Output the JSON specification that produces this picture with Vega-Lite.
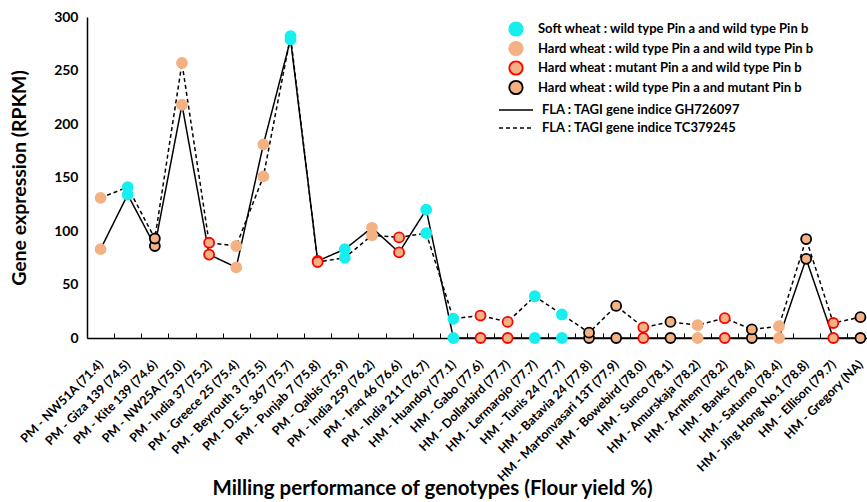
{
  "$schema": "https://vega.github.io/schema/vega-lite/v6.json",
  "width": 780,
  "height": 321,
  "autosize": {"type": "none"},
  "padding": {"left": 87, "top": 17, "right": 0, "bottom": 164},
  "background": "white",
  "config": {
    "font": "Lato",
    "view": {"stroke": null},
    "axis": {"labelFont": "Lato", "titleFont": "Lato", "labelFontWeight": "bold", "titleFontWeight": "bold", "labelColor": "black", "titleColor": "black", "domainColor": "black", "tickColor": "black", "grid": false},
    "legend": {"labelFont": "Lato", "labelFontWeight": "bold", "labelFontSize": 13, "labelColor": "black", "labelLimit": 400}
  },
  "data": {"values": [
    {"genotype": "PM - NW51A (71.4)", "class": "Hard wheat : wild type Pin a and wild type Pin b", "probe": "FLA : TAGI gene indice GH726097", "rpkm": 83},
    {"genotype": "PM - NW51A (71.4)", "class": "Hard wheat : wild type Pin a and wild type Pin b", "probe": "FLA : TAGI gene indice TC379245", "rpkm": 131},
    {"genotype": "PM - Giza 139 (74.5)", "class": "Soft wheat : wild type Pin a and wild type Pin b", "probe": "FLA : TAGI gene indice GH726097", "rpkm": 134},
    {"genotype": "PM - Giza 139 (74.5)", "class": "Soft wheat : wild type Pin a and wild type Pin b", "probe": "FLA : TAGI gene indice TC379245", "rpkm": 141},
    {"genotype": "PM - Kite 139 (74.6)", "class": "Hard wheat : wild type Pin a and mutant Pin b", "probe": "FLA : TAGI gene indice GH726097", "rpkm": 86},
    {"genotype": "PM - Kite 139 (74.6)", "class": "Hard wheat : wild type Pin a and mutant Pin b", "probe": "FLA : TAGI gene indice TC379245", "rpkm": 93},
    {"genotype": "PM - NW25A  (75.0)", "class": "Hard wheat : wild type Pin a and wild type Pin b", "probe": "FLA : TAGI gene indice GH726097", "rpkm": 218},
    {"genotype": "PM - NW25A  (75.0)", "class": "Hard wheat : wild type Pin a and wild type Pin b", "probe": "FLA : TAGI gene indice TC379245", "rpkm": 257},
    {"genotype": "PM - India 37  (75.2)", "class": "Hard wheat : mutant Pin a and wild type Pin b", "probe": "FLA : TAGI gene indice GH726097", "rpkm": 78},
    {"genotype": "PM - India 37  (75.2)", "class": "Hard wheat : mutant Pin a and wild type Pin b", "probe": "FLA : TAGI gene indice TC379245", "rpkm": 89},
    {"genotype": "PM - Greece 25 (75.4)", "class": "Hard wheat : wild type Pin a and wild type Pin b", "probe": "FLA : TAGI gene indice GH726097", "rpkm": 66},
    {"genotype": "PM - Greece 25 (75.4)", "class": "Hard wheat : wild type Pin a and wild type Pin b", "probe": "FLA : TAGI gene indice TC379245", "rpkm": 86},
    {"genotype": "PM - Beyrouth 3 (75.5)", "class": "Hard wheat : wild type Pin a and wild type Pin b", "probe": "FLA : TAGI gene indice GH726097", "rpkm": 181},
    {"genotype": "PM - Beyrouth 3 (75.5)", "class": "Hard wheat : wild type Pin a and wild type Pin b", "probe": "FLA : TAGI gene indice TC379245", "rpkm": 151},
    {"genotype": "PM - D.E.S. 367 (75.7)", "class": "Soft wheat : wild type Pin a and wild type Pin b", "probe": "FLA : TAGI gene indice GH726097", "rpkm": 279},
    {"genotype": "PM - D.E.S. 367 (75.7)", "class": "Soft wheat : wild type Pin a and wild type Pin b", "probe": "FLA : TAGI gene indice TC379245", "rpkm": 282},
    {"genotype": "PM - Punjab 7 (75.8)", "class": "Hard wheat : mutant Pin a and wild type Pin b", "probe": "FLA : TAGI gene indice GH726097", "rpkm": 72},
    {"genotype": "PM - Punjab 7 (75.8)", "class": "Hard wheat : mutant Pin a and wild type Pin b", "probe": "FLA : TAGI gene indice TC379245", "rpkm": 71},
    {"genotype": "PM - Qalbis (75.9)", "class": "Soft wheat : wild type Pin a and wild type Pin b", "probe": "FLA : TAGI gene indice GH726097", "rpkm": 83},
    {"genotype": "PM - Qalbis (75.9)", "class": "Soft wheat : wild type Pin a and wild type Pin b", "probe": "FLA : TAGI gene indice TC379245", "rpkm": 75},
    {"genotype": "PM - India 259 (76.2)", "class": "Hard wheat : wild type Pin a and wild type Pin b", "probe": "FLA : TAGI gene indice GH726097", "rpkm": 103},
    {"genotype": "PM - India 259 (76.2)", "class": "Hard wheat : wild type Pin a and wild type Pin b", "probe": "FLA : TAGI gene indice TC379245", "rpkm": 96},
    {"genotype": "PM - Iraq 46 (76.6)", "class": "Hard wheat : mutant Pin a and wild type Pin b", "probe": "FLA : TAGI gene indice GH726097", "rpkm": 80},
    {"genotype": "PM - Iraq 46 (76.6)", "class": "Hard wheat : mutant Pin a and wild type Pin b", "probe": "FLA : TAGI gene indice TC379245", "rpkm": 94},
    {"genotype": "PM - India 211 (76.7)", "class": "Soft wheat : wild type Pin a and wild type Pin b", "probe": "FLA : TAGI gene indice GH726097", "rpkm": 120},
    {"genotype": "PM - India 211 (76.7)", "class": "Soft wheat : wild type Pin a and wild type Pin b", "probe": "FLA : TAGI gene indice TC379245", "rpkm": 98},
    {"genotype": "HM - Huandoy (77.1)", "class": "Soft wheat : wild type Pin a and wild type Pin b", "probe": "FLA : TAGI gene indice GH726097", "rpkm": 0},
    {"genotype": "HM - Huandoy (77.1)", "class": "Soft wheat : wild type Pin a and wild type Pin b", "probe": "FLA : TAGI gene indice TC379245", "rpkm": 18},
    {"genotype": "HM - Gabo (77.6)", "class": "Hard wheat : mutant Pin a and wild type Pin b", "probe": "FLA : TAGI gene indice GH726097", "rpkm": 0},
    {"genotype": "HM - Gabo (77.6)", "class": "Hard wheat : mutant Pin a and wild type Pin b", "probe": "FLA : TAGI gene indice TC379245", "rpkm": 21},
    {"genotype": "HM - Dollarbird (77.7)", "class": "Hard wheat : mutant Pin a and wild type Pin b", "probe": "FLA : TAGI gene indice GH726097", "rpkm": 0},
    {"genotype": "HM - Dollarbird (77.7)", "class": "Hard wheat : mutant Pin a and wild type Pin b", "probe": "FLA : TAGI gene indice TC379245", "rpkm": 15},
    {"genotype": "HM - Lermarojo (77.7)", "class": "Soft wheat : wild type Pin a and wild type Pin b", "probe": "FLA : TAGI gene indice GH726097", "rpkm": 0},
    {"genotype": "HM - Lermarojo (77.7)", "class": "Soft wheat : wild type Pin a and wild type Pin b", "probe": "FLA : TAGI gene indice TC379245", "rpkm": 39},
    {"genotype": "HM - Tunis 24 (77.7)", "class": "Soft wheat : wild type Pin a and wild type Pin b", "probe": "FLA : TAGI gene indice GH726097", "rpkm": 0},
    {"genotype": "HM - Tunis 24 (77.7)", "class": "Soft wheat : wild type Pin a and wild type Pin b", "probe": "FLA : TAGI gene indice TC379245", "rpkm": 22},
    {"genotype": "HM - Batavia 24 (77.8)", "class": "Hard wheat : wild type Pin a and mutant Pin b", "probe": "FLA : TAGI gene indice GH726097", "rpkm": 0},
    {"genotype": "HM - Batavia 24 (77.8)", "class": "Hard wheat : wild type Pin a and mutant Pin b", "probe": "FLA : TAGI gene indice TC379245", "rpkm": 5},
    {"genotype": "HM - Martonvasari 13T (77.9)", "class": "Hard wheat : wild type Pin a and mutant Pin b", "probe": "FLA : TAGI gene indice GH726097", "rpkm": 0},
    {"genotype": "HM - Martonvasari 13T (77.9)", "class": "Hard wheat : wild type Pin a and mutant Pin b", "probe": "FLA : TAGI gene indice TC379245", "rpkm": 30},
    {"genotype": "HM - Bowebird (78.0)", "class": "Hard wheat : mutant Pin a and wild type Pin b", "probe": "FLA : TAGI gene indice GH726097", "rpkm": 0},
    {"genotype": "HM - Bowebird (78.0)", "class": "Hard wheat : mutant Pin a and wild type Pin b", "probe": "FLA : TAGI gene indice TC379245", "rpkm": 10},
    {"genotype": "HM - Sunco (78.1)", "class": "Hard wheat : wild type Pin a and mutant Pin b", "probe": "FLA : TAGI gene indice GH726097", "rpkm": 0},
    {"genotype": "HM - Sunco (78.1)", "class": "Hard wheat : wild type Pin a and mutant Pin b", "probe": "FLA : TAGI gene indice TC379245", "rpkm": 15},
    {"genotype": "HM - Amurskaja (78.2)", "class": "Hard wheat : wild type Pin a and wild type Pin b", "probe": "FLA : TAGI gene indice GH726097", "rpkm": 0},
    {"genotype": "HM - Amurskaja (78.2)", "class": "Hard wheat : wild type Pin a and wild type Pin b", "probe": "FLA : TAGI gene indice TC379245", "rpkm": 12},
    {"genotype": "HM - Arnhem (78.2)", "class": "Hard wheat : mutant Pin a and wild type Pin b", "probe": "FLA : TAGI gene indice GH726097", "rpkm": 0},
    {"genotype": "HM - Arnhem (78.2)", "class": "Hard wheat : mutant Pin a and wild type Pin b", "probe": "FLA : TAGI gene indice TC379245", "rpkm": 18.5},
    {"genotype": "HM - Banks (78.4)", "class": "Hard wheat : wild type Pin a and mutant Pin b", "probe": "FLA : TAGI gene indice GH726097", "rpkm": 0},
    {"genotype": "HM - Banks (78.4)", "class": "Hard wheat : wild type Pin a and mutant Pin b", "probe": "FLA : TAGI gene indice TC379245", "rpkm": 8},
    {"genotype": "HM - Saturno (78.4)", "class": "Hard wheat : wild type Pin a and wild type Pin b", "probe": "FLA : TAGI gene indice GH726097", "rpkm": 0},
    {"genotype": "HM - Saturno (78.4)", "class": "Hard wheat : wild type Pin a and wild type Pin b", "probe": "FLA : TAGI gene indice TC379245", "rpkm": 11},
    {"genotype": "HM - Jing Hong No.1 (78.8)", "class": "Hard wheat : wild type Pin a and mutant Pin b", "probe": "FLA : TAGI gene indice GH726097", "rpkm": 74},
    {"genotype": "HM - Jing Hong No.1 (78.8)", "class": "Hard wheat : wild type Pin a and mutant Pin b", "probe": "FLA : TAGI gene indice TC379245", "rpkm": 92.5},
    {"genotype": "HM - Ellison (79.7)", "class": "Hard wheat : mutant Pin a and wild type Pin b", "probe": "FLA : TAGI gene indice GH726097", "rpkm": 0},
    {"genotype": "HM - Ellison (79.7)", "class": "Hard wheat : mutant Pin a and wild type Pin b", "probe": "FLA : TAGI gene indice TC379245", "rpkm": 14},
    {"genotype": "HM - Gregory  (NA)", "class": "Hard wheat : wild type Pin a and mutant Pin b", "probe": "FLA : TAGI gene indice GH726097", "rpkm": 0},
    {"genotype": "HM - Gregory  (NA)", "class": "Hard wheat : wild type Pin a and mutant Pin b", "probe": "FLA : TAGI gene indice TC379245", "rpkm": 19.5}
  ]},
  "encoding": {
    "x": {
      "field": "genotype", "type": "ordinal",
      "sort": ["PM - NW51A (71.4)", "PM - Giza 139 (74.5)", "PM - Kite 139 (74.6)", "PM - NW25A  (75.0)", "PM - India 37  (75.2)", "PM - Greece 25 (75.4)", "PM - Beyrouth 3 (75.5)", "PM - D.E.S. 367 (75.7)", "PM - Punjab 7 (75.8)", "PM - Qalbis (75.9)", "PM - India 259 (76.2)", "PM - Iraq 46 (76.6)", "PM - India 211 (76.7)", "HM - Huandoy (77.1)", "HM - Gabo (77.6)", "HM - Dollarbird (77.7)", "HM - Lermarojo (77.7)", "HM - Tunis 24 (77.7)", "HM - Batavia 24 (77.8)", "HM - Martonvasari 13T (77.9)", "HM - Bowebird (78.0)", "HM - Sunco (78.1)", "HM - Amurskaja (78.2)", "HM - Arnhem (78.2)", "HM - Banks (78.4)", "HM - Saturno (78.4)", "HM - Jing Hong No.1 (78.8)", "HM - Ellison (79.7)", "HM - Gregory  (NA)"],
      "scale": {"type": "band", "range": [0, 787], "paddingInner": 0, "paddingOuter": 0},
      "axis": {
        "title": "Milling performance of genotypes (Flour yield %)",
        "titleFontSize": 20.5, "titleX": 345, "titleY": 150, "titleAnchor": "middle", "titleBaseline": "middle",
        "labelAngle": -45, "labelAlign": "right", "labelBaseline": "middle", "labelFontSize": 12.5,
        "labelPadding": 29, "tickBand": "extent", "tickSize": -5, "tickWidth": 1, "domainWidth": 1.5, "labelOverlap": false, "labelLimit": 300
      }
    },
    "y": {
      "field": "rpkm", "type": "quantitative",
      "scale": {"domain": [0, 300], "nice": false},
      "axis": {"title": "Gene expression (RPKM)", "titleFontSize": 19.5, "titlePadding": 24, "values": [0, 50, 100, 150, 200, 250, 300], "labelFontSize": 14, "ticks": false, "labelPadding": 9, "domainWidth": 1.5}
    }
  },
  "layer": [
    {
      "mark": {"type": "line", "color": "black", "strokeWidth": 1.5},
      "encoding": {
        "strokeDash": {
          "field": "probe", "type": "nominal",
          "scale": {"domain": ["FLA : TAGI gene indice GH726097", "FLA : TAGI gene indice TC379245"], "range": [[1, 0], [4, 3]]},
          "legend": {"title": null, "orient": "none", "legendX": 418, "legendY": 82, "symbolType": "M-1.7,0H1.7", "symbolSize": 400, "symbolStrokeWidth": 1.5, "symbolStrokeColor": "black", "labelOffset": 15, "rowPadding": 0}
        }
      }
    },
    {
      "mark": {"type": "point", "shape": "circle", "filled": true, "size": 100, "strokeWidth": 1.8, "opacity": 1},
      "encoding": {
        "fill": {
          "field": "class", "type": "nominal",
          "scale": {"domain": ["Soft wheat : wild type Pin a and wild type Pin b", "Hard wheat : wild type Pin a and wild type Pin b", "Hard wheat : mutant Pin a and wild type Pin b", "Hard wheat : wild type Pin a and mutant Pin b"], "range": ["#17EFEF", "#F4B183", "#F4B183", "#F4B183"]},
          "legend": {"title": null, "orient": "none", "legendX": 421, "legendY": 4, "symbolSize": 180, "symbolStrokeWidth": 1.8, "labelOffset": 14, "rowPadding": -2.5}
        },
        "stroke": {
          "field": "class", "type": "nominal",
          "scale": {"domain": ["Soft wheat : wild type Pin a and wild type Pin b", "Hard wheat : wild type Pin a and wild type Pin b", "Hard wheat : mutant Pin a and wild type Pin b", "Hard wheat : wild type Pin a and mutant Pin b"], "range": ["#17EFEF", "#F4B183", "#FF0000", "#000000"]},
          "legend": {"title": null, "orient": "none", "legendX": 421, "legendY": 4, "symbolSize": 180, "symbolStrokeWidth": 1.8, "labelOffset": 14, "rowPadding": -2.5}
        }
      }
    }
  ]
}
